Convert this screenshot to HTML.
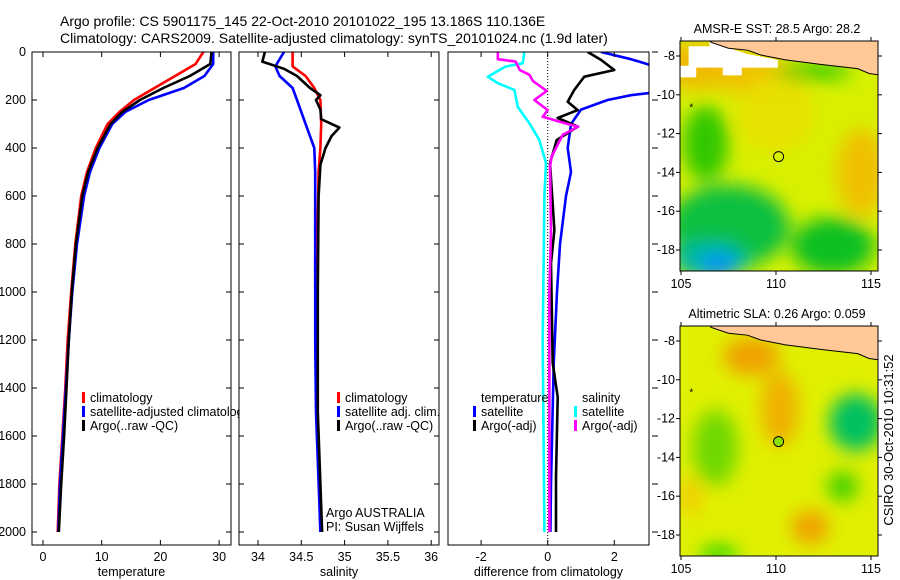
<!DOCTYPE html>
<html><head><meta charset="utf-8">
<style>
html,body{margin:0;padding:0;background:#fff;}
svg{display:block;font-family:"Liberation Sans",sans-serif;}
text{font-size:12.5px;fill:#000;}
</style></head>
<body>
<svg id="fig" width="900" height="580" viewBox="0 0 900 580">
<text x="60" y="26" style="font-size:14px">Argo profile: CS 5901175_145 22-Oct-2010 20101022_195 13.186S 110.136E</text>
<text x="60" y="43" style="font-size:14px">Climatology: CARS2009. Satellite-adjusted climatology: synTS_20101024.nc (1.9d later)</text>
<g id="charts"></g>
<g id="maps"></g>
<text transform="translate(893,440) rotate(-90)" text-anchor="middle" style="font-size:13px">CSIRO 30-Oct-2010 10:31:52</text>
</svg>
<script>
// ---- data (depth in dbar) ----
const tClimDepth = [0,50,100,150,200,250,300,400,500,600,800,1000,1200,1400,1600,1800,2000];
const tClim      = [27.3,26,22.5,19,15.5,13,11,9,7.5,6.5,5.5,4.8,4.2,3.8,3.3,2.8,2.5];
const tSat       = [29,29,27.5,24,18,14,11.8,9.6,8,7,5.8,5,4.4,3.9,3.4,2.9,2.6];
const tArgo      = [28.7,28.5,25,20.5,16.5,13.5,11.5,9.3,7.7,6.7,5.6,4.9,4.4,4.0,3.6,3.1,2.7];

const sClimDepth = [0,60,100,150,200,300,400,500,700,1000,1400,1700,2000];
const sClim      = [34.4,34.4,34.55,34.65,34.72,34.73,34.72,34.7,34.69,34.68,34.68,34.7,34.72];
const sSatDepth  = [0,30,60,100,150,200,300,400,500,800,1200,1500,2000];
const sSat       = [34.3,34.25,34.2,34.25,34.4,34.45,34.55,34.65,34.66,34.66,34.66,34.67,34.72];
const sArgoDepth = [0,40,70,100,150,180,200,240,280,315,350,400,470,600,1000,1500,2000];
const sArgo      = [34.08,34.05,34.3,34.45,34.6,34.72,34.67,34.72,34.73,34.94,34.85,34.78,34.72,34.7,34.69,34.69,34.74];

const dTSatDepth  = [0,30,55,170,180,200,240,300,400,500,600,800,1000,1300,1800,2000];
const dTSat       = [1.6,2.5,3.1,3.1,2.5,1.8,1.0,0.7,0.6,0.7,0.55,0.37,0.28,0.18,0.1,0.08];
const dTArgoDepth = [0,33,75,103,158,207,242,275,311,367,463,742,880,1296,1437,1770,2000];
const dTArgo      = [1.2,1.6,2.0,1.1,0.8,0.6,0.9,0.3,0.9,0.27,0.07,0.2,0.1,0.15,0.3,0.25,0.25];
const dSSatDepth  = [0,47,61,103,130,158,228,297,367,463,600,1200,2000];
const dSSat       = [-0.7,-0.75,-1.27,-1.8,-1.5,-1.0,-0.9,-0.55,-0.25,-0.05,-0.1,-0.15,-0.1];
const dSArgoDepth = [0,30,40,75,95,120,162,200,242,270,300,311,345,435,477,742,1000,2000];
const dSArgo      = [-1.5,-1.5,-0.96,-0.84,-0.55,-0.45,-0.03,-0.4,0,-0.15,0.6,0.92,0.45,0.12,0.07,0.1,0.05,0.05];

const depthTicks = [0,200,400,600,800,1000,1200,1400,1600,1800,2000];
const tTicks = [0,10,20,30];
const sTicks = [34,34.5,35,35.5,36];
const sTickLabels = ["34","34.5","35","35.5","36"];
const dTicks = [-2,0,2];

const NS='http://www.w3.org/2000/svg';
function mk(tag, attrs, parent){const e=document.createElementNS(NS,tag);for(const k in attrs)e.setAttribute(k,attrs[k]);parent.appendChild(e);return e;}
const charts=document.getElementById('charts');
const yOf = d => 52 + d*0.24;

function panel(p){
  const g=mk('g',{},charts);
  
  
  const xOf = v => p.x0 + (v-p.v0)*p.k;
  const cid='clip-'+p.name;
  const cp=mk('clipPath',{id:cid},g);
  mk('rect',{x:p.L,y:52,width:p.R-p.L,height:493},cp);
  if(p.zero){ mk('line',{x1:xOf(0),y1:52,x2:xOf(0),y2:545,stroke:'#000','stroke-dasharray':'1,2','stroke-width':1},g); }
  p.series.forEach(s=>{
    const pts=s.d.map((d,i)=>xOf(s.v[i]).toFixed(1)+','+yOf(d).toFixed(1)).join(' ');
    const pl=mk('polyline',{points:pts,fill:'none',stroke:s.c,'stroke-width':2.6,'stroke-linejoin':'round','clip-path':'url(#'+cid+')'},g);
    
    
  });
  const fr=mk('rect',{x:p.L,y:52,width:p.R-p.L,height:493,fill:'none',stroke:'#000','stroke-width':1},g);
  
  
  p.ticks.forEach((t,i)=>{
    const x=xOf(t);
    mk('line',{x1:x,y1:545,x2:x,y2:540,stroke:'#000'},g);
    mk('line',{x1:x,y1:52,x2:x,y2:57,stroke:'#000'},g);
    const tx=mk('text',{x:x,y:561,'text-anchor':'middle'},g);
    tx.textContent=p.labels?p.labels[i]:String(t);
    
    
  });
  depthTicks.forEach(d=>{
    const y=yOf(d);
    if(p.rightOut){ mk('line',{x1:p.R+3,y1:y,x2:p.R+9,y2:y,stroke:'#000'},g); }
    else { mk('line',{x1:p.L,y1:y,x2:p.L+5,y2:y,stroke:'#000'},g);
           mk('line',{x1:p.R,y1:y,x2:p.R-5,y2:y,stroke:'#000'},g); }
    if(p.ylabels){
      const tx=mk('text',{x:p.L-6,y:y+4,'text-anchor':'end'},g);
      tx.textContent=String(d);
      
      
    }
  });
  const at=mk('text',{x:(p.L+p.R)/2,y:576,'text-anchor':'middle'},g);
  at.textContent=p.title;
  
  
  return g;
}

panel({name:'temperature-panel',L:32,R:231,x0:43,v0:0,k:5.87,ticks:tTicks,ylabels:true,title:'temperature',
  series:[{name:'temp-climatology-line',d:tClimDepth,v:tClim,c:'#ff0000'},
          {name:'temp-satellite-line',d:tClimDepth,v:tSat,c:'#0000ff'},
          {name:'temp-argo-line',d:tClimDepth,v:tArgo,c:'#000'}]});
panel({name:'salinity-panel',L:239,R:439,x0:258,v0:34,k:86.6,ticks:sTicks,labels:sTickLabels,title:'salinity',
  series:[{name:'sal-climatology-line',d:sClimDepth,v:sClim,c:'#ff0000'},
          {name:'sal-satellite-line',d:sSatDepth,v:sSat,c:'#0000ff'},
          {name:'sal-argo-line',d:sArgoDepth,v:sArgo,c:'#000'}]});
panel({name:'difference-panel',L:448,R:649,x0:547.7,v0:0,k:33.3,ticks:dTicks,title:'difference from climatology',rightOut:true,zero:true,
  series:[{name:'diff-sal-satellite-line',d:dSSatDepth,v:dSSat,c:'#00ffff'},
          {name:'diff-temp-satellite-line',d:dTSatDepth,v:dTSat,c:'#0000ff'},
          {name:'diff-temp-argo-line',d:dTArgoDepth,v:dTArgo,c:'#000'},
          {name:'diff-sal-argo-line',d:dSArgoDepth,v:dSArgo,c:'#ff00ff'}]});

function legend(x,y,items,name,clipR){
  const g=mk('g',{},charts);
  
  
  if(clipR){
    const cp=mk('clipPath',{id:'lc-'+name},g);
    mk('rect',{x:x-5,y:y-20,width:clipR-x+5,height:60},cp);
    g.setAttribute('clip-path','url(#lc-'+name+')');
  }
  items.forEach((it,i)=>{
    const yy=y+i*14;
    if(it.c) mk('rect',{x:x,y:yy-10,width:3,height:11,fill:it.c},g);
    const t=mk('text',{x:x+8,y:yy,style:'font-size:12.5px'},g);
    t.textContent=it.t;
    
    
  });
}
legend(82,402,[{c:'#f00',t:'climatology'},{c:'#00f',t:'satellite-adjusted climatology'},{c:'#000',t:'Argo(..raw -QC)'}],'temperature-legend',239);
legend(337,402,[{c:'#f00',t:'climatology'},{c:'#00f',t:'satellite adj. clim.'},{c:'#000',t:'Argo(..raw -QC)'}],'salinity-legend');
legend(473,402,[{t:'temperature'},{c:'#00f',t:'satellite'},{c:'#000',t:'Argo(-adj)'}],'diff-temp-legend');
legend(574,402,[{t:'salinity'},{c:'#0ff',t:'satellite'},{c:'#f0f',t:'Argo(-adj)'}],'diff-sal-legend');
{
  const t1=mk('text',{x:326,y:517,style:'font-size:12.5px'},charts); t1.textContent='Argo AUSTRALIA';
   
  const t2=mk('text',{x:326,y:531,style:'font-size:12.5px'},charts); t2.textContent='PI: Susan Wijffels';
   
}

// ---- maps ----
const mapLatTicks=[-8,-10,-12,-14,-16,-18];
const mapLonTicks=[105,110,115];
const maps=document.getElementById('maps');
const defs=mk('defs',{},maps);
const f=mk('filter',{id:'blur',x:'-50%',y:'-50%',width:'200%',height:'200%'},defs);
mk('feGaussianBlur',{stdDeviation:9},f);

function drawMap(top,title,name,base,blobs,argoFill,white){
  const g=mk('g',{},maps);
  
  
  const L=680,R=878,T=top,B=top+230;
  const lx=lon=>681+(lon-105)*19, ly=lat=>top+15+(-lat-8)*19.4;
  const cid='mc-'+name;
  const cp=mk('clipPath',{id:cid},g); mk('rect',{x:L,y:T,width:R-L,height:B-T},cp);
  const inner=mk('g',{'clip-path':'url(#'+cid+')'},g);
  mk('rect',{x:L,y:T,width:R-L,height:B-T,fill:base},inner);
  const bg=mk('g',{filter:'url(#blur)'},inner);
  blobs.forEach(b=>mk('ellipse',{cx:lx(b[0]),cy:ly(b[1]),rx:b[2]*19,ry:b[3]*19,fill:b[4]},bg));
  if(white){
    mk('path',{d:`M${lx(104)},${ly(-8.5)} L${lx(104)},${ly(-9.1)} L${lx(105.8)},${ly(-9.1)} L${lx(105.8)},${ly(-8.6)} L${lx(107.2)},${ly(-8.6)} L${lx(107.2)},${ly(-9.0)} L${lx(108.2)},${ly(-9.0)} L${lx(108.2)},${ly(-8.6)} L${lx(110.1)},${ly(-8.6)} L${lx(110.1)},${ly(-8.2)} L${lx(108.5)},${ly(-7.9)} L${lx(107.2)},${ly(-7.5)} L${lx(106.5)},${ly(-7.2)} L${lx(106.5)},${ly(-7.5)} L${lx(105.4)},${ly(-7.5)} L${lx(105.4)},${ly(-8.5)} Z`,fill:'#fff'},inner);
  }
  // land
  mk('path',{d:`M${lx(106.4)},${T-2} L${lx(106.6)},${ly(-7.3)} L${lx(107.5)},${ly(-7.6)} L${lx(108.5)},${ly(-7.7)} L${lx(109.2)},${ly(-7.95)} L${lx(110.5)},${ly(-8.2)} L${lx(112.5)},${ly(-8.45)} L${lx(114.3)},${ly(-8.65)} L${lx(114.9)},${ly(-8.9)} L${lx(115.6)},${ly(-9.0)} L${R+5},${T-2} Z`,fill:'#ffc896',stroke:'#000','stroke-width':1},inner);
  const t=mk('text',{x:777,y:top-8,'text-anchor':'middle'},g); t.textContent=title;
   
  mk('rect',{x:L,y:T,width:R-L,height:B-T,fill:'none',stroke:'#000'},g);
  mapLatTicks.forEach(la=>{const y=ly(la);
    mk('line',{x1:L-4,y1:y,x2:L,y2:y,stroke:'#000'},g); mk('line',{x1:R,y1:y,x2:R+4,y2:y,stroke:'#000'},g);
    const tx=mk('text',{x:L-5,y:y+4,'text-anchor':'end'},g); tx.textContent=String(la);
     });
  mapLonTicks.forEach(lo=>{const x=lx(lo);
    mk('line',{x1:x,y1:B,x2:x,y2:B+4,stroke:'#000'},g); mk('line',{x1:x,y1:T-4,x2:x,y2:T,stroke:'#000'},g);
    const tx=mk('text',{x:x,y:B+17,'text-anchor':'middle'},g); tx.textContent=String(lo);
     });
  const c=mk('circle',{cx:lx(110.136),cy:ly(-13.186),r:5,fill:argoFill,stroke:'#000'},g);
   
  const s=mk('text',{x:lx(105.6)-3,y:ly(-10.5)+6,style:'font-size:10px'},g); s.textContent='*';
  return {g,lx,ly,inner};
}
drawMap(41,'AMSR-E SST: 28.5 Argo: 28.2','sst-map','#d8f000',[
  [106,-8.5,3,1.2,'#f0b800'],[109,-9,2.5,1,'#f0c000'],[114.5,-14,1.3,2.3,'#f0c000'],[110,-11,2,2,'#e8e000'],
  [112,-8.8,2,0.4,'#20c800'],
  [106.3,-12.5,1.2,2,'#30c800'],[107.5,-16.8,3.2,2.2,'#10c040'],[113,-17.8,2.2,1.5,'#10c020'],
  [106.5,-18.5,2,1,'#00b8a0'],[107,-18.8,1,0.6,'#0090ff']],'#d8f000',true);
drawMap(326,'Altimetric SLA: 0.26 Argo: 0.059','sla-map','#e0f000',[
  [108.7,-8.8,1.5,1,'#f0a000'],[110.2,-11.5,1,2,'#f0b000'],[111.8,-17.6,1,0.9,'#f0a000'],
  [114.2,-12.2,1.4,1.5,'#00c060'],[106.8,-13.5,1.2,2,'#70d800'],[113.5,-15.5,0.8,0.8,'#40d000'],[107,-19,1,0.4,'#10d000'],[105.5,-16,0.7,1,'#f0d000']],'#90e000',false);
</script>
</body></html>
